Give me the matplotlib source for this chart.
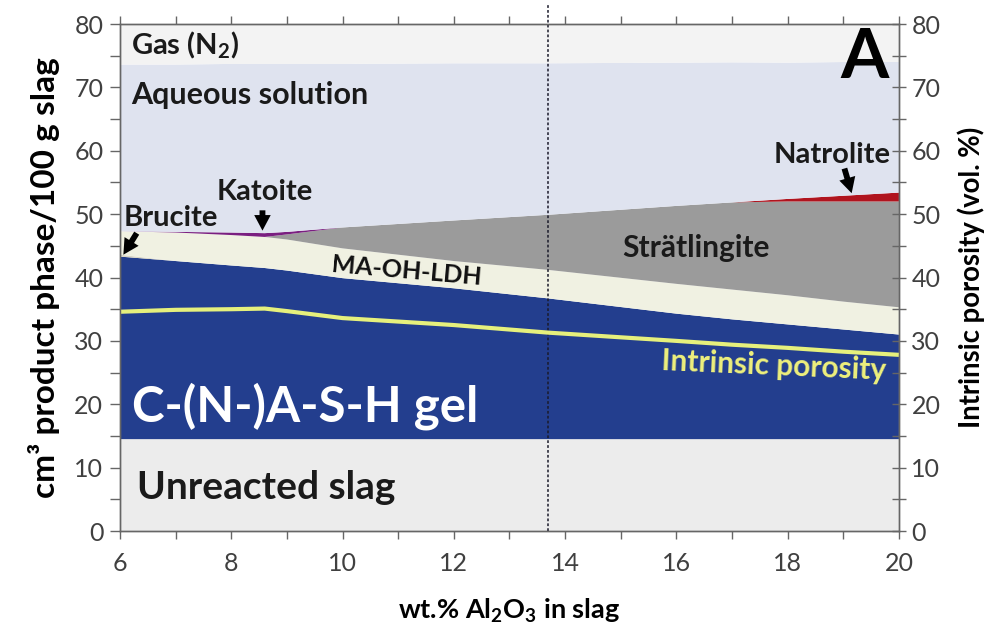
import matplotlib
matplotlib.use("Agg")
import matplotlib.pyplot as plt
from matplotlib.ticker import MultipleLocator

plt.rcParams["font.family"] = ["Lato", "DejaVu Sans"]
plt.rcParams["mathtext.fontset"] = "custom"
plt.rcParams["mathtext.rm"] = "Lato:bold"
plt.rcParams["mathtext.bf"] = "Lato:bold"
plt.rcParams["mathtext.default"] = "rm"

# Slag Al2O3 content (wt.%)
al2o3 = [6, 7, 8, 8.6, 9, 10, 12, 13.7, 16, 17, 18, 19, 20]

# Phase volumes, cm3 per 100 g slag (stacked from the bottom up)
unreacted_slag = [14.5, 14.5, 14.5, 14.5, 14.5, 14.5, 14.5, 14.5, 14.5, 14.5, 14.5, 14.5, 14.5]
cnash_gel      = [28.8, 28.1, 27.4, 27.0, 26.6, 25.4, 23.8, 22.2, 19.8, 18.9, 18.1, 17.3, 16.5]
brucite        = [0.3, 0.0, 0.0, 0.0, 0.0, 0.0, 0.0, 0.0, 0.0, 0.0, 0.0, 0.0, 0.0]
ma_oh_ldh      = [3.7, 4.5, 4.8, 4.9, 4.9, 4.7, 4.3, 4.5, 4.7, 4.7, 4.6, 4.4, 4.3]
stratlingite   = [0.0, 0.0, 0.0, 0.0, 0.8, 3.3, 6.4, 8.7, 12.3, 13.75, 14.8, 15.8, 16.7]
katoite        = [0.0, 0.1, 0.4, 0.6, 0.4, 0.0, 0.0, 0.0, 0.0, 0.0, 0.0, 0.0, 0.0]
natrolite      = [0.0, 0.0, 0.0, 0.0, 0.0, 0.0, 0.0, 0.0, 0.0, 0.0, 0.4, 0.9, 1.4]
aqueous        = [26.3, 26.4, 26.6, 26.7, 26.5, 25.8, 24.8, 23.9, 22.6, 22.1, 21.5, 21.1, 20.6]
gas_n2         = [6.4, 6.4, 6.3, 6.3, 6.3, 6.3, 6.2, 6.2, 6.1, 6.1, 6.1, 6.0, 6.0]

# Intrinsic porosity of the gel (vol. %), right axis
porosity = [34.6, 34.9, 35.0, 35.1, 34.7, 33.6, 32.5, 31.3, 30.0, 29.4, 28.9, 28.3, 27.8]

# Slag composition marked by the dashed line
marked_al2o3 = 13.7

layers = [unreacted_slag, cnash_gel, brucite, ma_oh_ldh, stratlingite,
          katoite, natrolite, aqueous, gas_n2]
colors = ["#ececec", "#233e8e", "#d9d6c4", "#f0f1e2", "#9b9b9b",
          "#7a1f80", "#b0141e", "#dfe3ef", "#f3f3f3"]

fig = plt.figure(figsize=(10.07, 6.30), dpi=100)
ax = fig.add_axes([0.1192, 0.1571, 0.7735, 0.8048])
ax.stackplot(al2o3, *layers, colors=colors, linewidth=0)

ax.set_xlim(6, 20)
ax.set_ylim(0, 80)

ax2 = ax.twinx()
ax2.set_ylim(0, 80)
ax2.plot(al2o3, porosity, color="#e6f07c", lw=3, solid_capstyle="butt")

ax.plot([marked_al2o3, marked_al2o3], [0, 83], color="#1a1a2a", lw=1.1,
        ls=(0, (1.8, 1.4)), clip_on=False, zorder=5)

tick_color = "#404040"
spine_color = "#666666"
for a in (ax, ax2):
    for s in a.spines.values():
        s.set_color(spine_color)
        s.set_linewidth(1.0)

ax.xaxis.set_major_locator(MultipleLocator(2))
ax.xaxis.set_minor_locator(MultipleLocator(1))
ax.yaxis.set_major_locator(MultipleLocator(10))
ax.yaxis.set_minor_locator(MultipleLocator(5))
ax2.yaxis.set_major_locator(MultipleLocator(10))
ax2.yaxis.set_minor_locator(MultipleLocator(5))

ax.tick_params(axis="x", which="both", direction="out", length=6, width=1,
               color=spine_color, labelsize=18, labelcolor=tick_color,
               top=True, pad=9)
ax.tick_params(axis="y", which="both", direction="out", length=7, width=1,
               color=spine_color, labelsize=18, labelcolor=tick_color, pad=5)
ax2.tick_params(axis="y", which="both", direction="inout", length=10, width=1,
                color=spine_color, labelsize=18, labelcolor=tick_color, pad=4)

ax.set_xlabel(r"wt.% Al$_2$O$_3$ in slag", fontsize=19.5, fontweight="bold",
              labelpad=16)
ax.set_ylabel("cm³ product phase/100 g slag", fontsize=24, fontweight="bold",
              labelpad=10)
ax2.set_ylabel("Intrinsic porosity (vol. %)", fontsize=19.8, fontweight="bold",
               labelpad=12)

# Phase labels
ax2.text(6.2, 76.6, r"Gas (N$_2$)", fontsize=21, fontweight="bold",
         color="#1a1a1a", va="center", ha="left")
ax2.text(6.2, 68.8, "Aqueous solution", fontsize=22, fontweight="bold",
         color="#1a1a1a", va="center", ha="left")
ax2.text(19.39, 74.6, "A", fontsize=50, fontweight="bold", color="black",
         va="center", ha="center")
ax2.text(16.35, 44.6, "Strätlingite", fontsize=21.5, fontweight="bold",
         color="#1a1a1a", va="center", ha="center")
ax2.text(11.15, 41.0, "MA-OH-LDH", fontsize=18, fontweight="bold",
         color="#111111", va="center", ha="center", rotation=-5)
ax2.text(17.75, 26.0, "Intrinsic porosity", fontsize=21.5, fontweight="bold",
         color="#eef07c", va="center", ha="center", rotation=-2.5)
ax2.text(6.22, 19.7, "C-(N-)A-S-H gel", fontsize=35.5, fontweight="bold",
         color="white", va="center", ha="left")
ax2.text(6.3, 6.8, "Unreacted slag", fontsize=28, fontweight="bold",
         color="#1a1a1a", va="center", ha="left")
ax2.text(18.8, 59.3, "Natrolite", fontsize=21, fontweight="bold",
         color="#1a1a1a", va="center", ha="center")
ax2.text(8.61, 53.5, "Katoite", fontsize=21, fontweight="bold",
         color="#1a1a1a", va="center", ha="center")
ax2.text(6.92, 49.4, "Brucite", fontsize=21, fontweight="bold",
         color="#1a1a1a", va="center", ha="center")

# Pointer arrows (tail -> tip)
arrow_kw = dict(arrowstyle="simple,head_length=0.8,head_width=0.85,tail_width=0.3",
                color="black", lw=0, shrinkA=0, shrinkB=0, mutation_scale=14)
ax2.annotate("", xy=(19.15, 53.3), xytext=(19.02, 57.2), arrowprops=arrow_kw)
ax2.annotate("", xy=(8.56, 47.4), xytext=(8.56, 50.6), arrowprops=arrow_kw)
ax2.annotate("", xy=(6.06, 43.6), xytext=(6.30, 47.0), arrowprops=arrow_kw)

fig.savefig("out.png", dpi=100)
